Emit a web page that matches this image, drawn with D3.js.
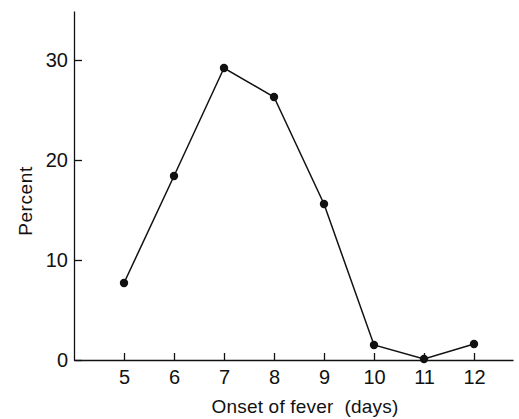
<!DOCTYPE html>
<html lang="en">
  <head>
    <meta charset="UTF-8" />
    <title>Onset of fever</title>
    <script src="https://d3js.org/d3.v7.min.js"></script>
    <style>
      body { margin: 0; background: #fff; }
      text { font-family: "Liberation Sans", Arial, sans-serif; fill: #111; }
    </style>
  </head>
  <body>
    <svg id="canvas"></svg>
  </body>
  <script>
    let days = [5, 6, 7, 8, 9, 10, 11, 12];
    let percent = [7.7, 18.4, 29.2, 26.3, 15.6, 1.5, 0.1, 1.6];
    let yTicks = [0, 10, 20, 30];

    let width = 519;
    let height = 419;

    let svg = d3.select("svg").attr("width", width).attr("height", height);

    let xScale = d3.scaleLinear().domain([4, 12.78]).range([74, 513]);
    let yScale = d3.scaleLinear().domain([0, 34.9]).range([360, 11]);

    let xAxis = d3.axisBottom(xScale)
      .tickValues(days)
      .tickSizeInner(-7)
      .tickSizeOuter(0)
      .tickPadding(10);
    let yAxis = d3.axisLeft(yScale)
      .tickValues(yTicks)
      .tickSizeInner(-8)
      .tickSizeOuter(0)
      .tickPadding(6);

    let gx = svg.append("g")
      .attr("transform", "translate(0,360)")
      .call(xAxis);
    let gy = svg.append("g")
      .attr("transform", "translate(74,0)")
      .call(yAxis);

    [gx, gy].forEach((g) => {
      g.selectAll("path, line").attr("stroke", "#111").attr("stroke-width", 1.3);
      g.selectAll("text").attr("font-size", 20).attr("font-family", null).attr("fill", "#111");
    });

    let line = d3.line()
      .x((d, i) => xScale(days[i]))
      .y((d) => yScale(d));

    svg.append("path")
      .datum(percent)
      .attr("fill", "none")
      .attr("stroke", "#111")
      .attr("stroke-width", 1.5)
      .attr("d", line);

    svg.selectAll("circle")
      .data(percent)
      .enter()
      .append("circle")
      .attr("cx", (d, i) => xScale(days[i]))
      .attr("cy", (d) => yScale(d))
      .attr("r", 4.2)
      .attr("fill", "#111");

    svg.append("text")
      .attr("x", 305)
      .attr("y", 413)
      .attr("text-anchor", "middle")
      .attr("font-size", 19)
      .attr("letter-spacing", 0.2)
      .style("white-space", "pre")
      .text("Onset of fever  (days)");

    svg.append("text")
      .attr("transform", "translate(32,201) rotate(-90)")
      .attr("text-anchor", "middle")
      .attr("font-size", 19)
      .attr("letter-spacing", 0.6)
      .text("Percent");
  </script>
</html>
